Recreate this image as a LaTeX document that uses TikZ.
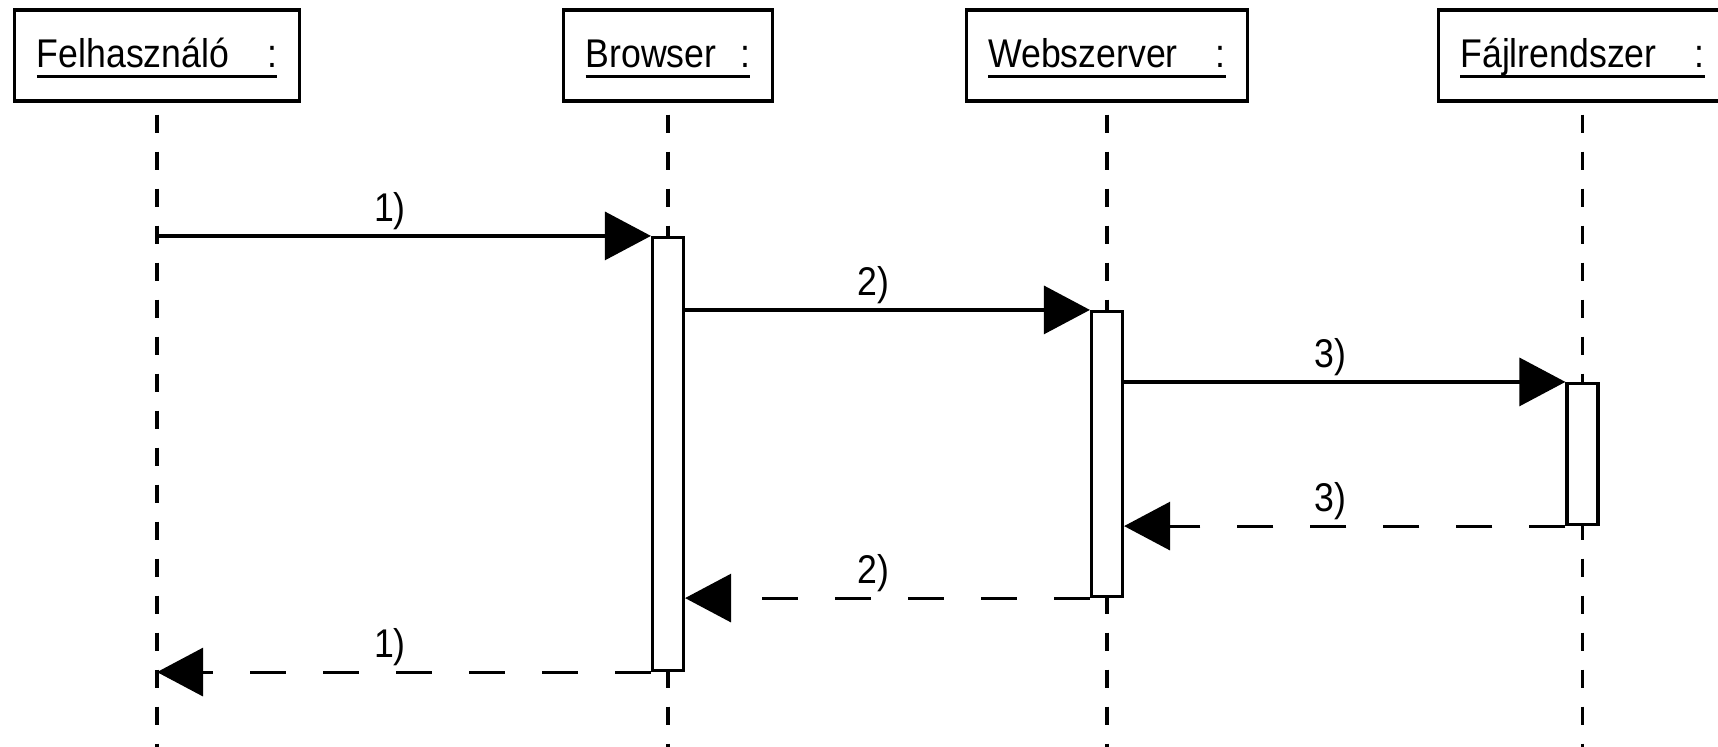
\documentclass[tikz,border=0pt]{standalone}
\usepackage{fontspec}
\setmainfont[FakeStretch=0.89]{Liberation Sans}
\usetikzlibrary{arrows.meta}

% object name, underlined together with its colon
\newcommand{\objname}[2][0.38cm]{\setbox0\hbox{#2\hspace{#1}:}%
  \rlap{\rule[-2.9pt]{\wd0}{0.85pt}}\box0}

\begin{document}
\begin{tikzpicture}[x=0.1mm,y=-0.1mm,
    objbox/.style={draw,line width=0.9pt,minimum height=0.91cm,inner xsep=0.22cm,
      text height=9pt,text depth=2pt,font=\fontsize{11.4}{13}\selectfont},
    lifeline/.style={line width=0.9pt,dash pattern=on 0.18cm off 0.19cm,dash phase=0.25cm},
    actbar/.style={draw,fill=white,line width=0.9pt,minimum width=0.31cm,inner sep=0pt},
    call/.style={line width=0.9pt,-{Triangle[length=0.46cm,width=0.48cm]}},
    reply/.style={call,dash pattern=on 0.36cm off 0.37cm},
    msg/.style={midway,xshift=-0.14cm,yshift=0.25cm,font=\fontsize{11.4}{13}\selectfont}]
  \useasboundingbox (0,0) rectangle (1718,747);
  \clip (0,0) rectangle (1718,747);

  \node[objbox] (user) at (157,55.5) {\objname{Felhasználó}};
  \node[objbox] (browser) at (668,55.5) {\objname[0.24cm]{Browser}};
  \node[objbox] (server) at (1107,55.5) {\objname{Webszerver}};
  \node[objbox] (fs) at (1582.5,55.5) {\objname{Fájlrendszer}};

  % lifelines
  \foreach \o in {user,browser,server,fs}
    \draw[lifeline] (\o.south) -- (\o.south |- 0,747);

  % activation bars
  \node[actbar,minimum height=4.33cm] (bbar) at (browser |- 0,454) {};
  \node[actbar,minimum height=2.85cm] (sbar) at (server |- 0,454) {};
  \node[actbar,minimum height=1.41cm] (fbar) at (fs |- 0,454) {};

  % calls and replies
  \draw[call] (user |- bbar.north west) -- node[msg] {1)} (bbar.north west);
  \draw[call] (bbar.east |- sbar.north west) -- node[msg] {2)} (sbar.north west);
  \draw[call] (sbar.east |- fbar.north west) -- node[msg] {3)} (fbar.north west);
  \draw[reply] (fbar.south west) -- node[msg] {3)} (sbar.east |- fbar.south west);
  \draw[reply] (sbar.south west) -- node[msg] {2)} (bbar.east |- sbar.south west);
  \draw[reply] (bbar.south west) -- node[msg] {1)} (user |- bbar.south west);
\end{tikzpicture}
\end{document}
